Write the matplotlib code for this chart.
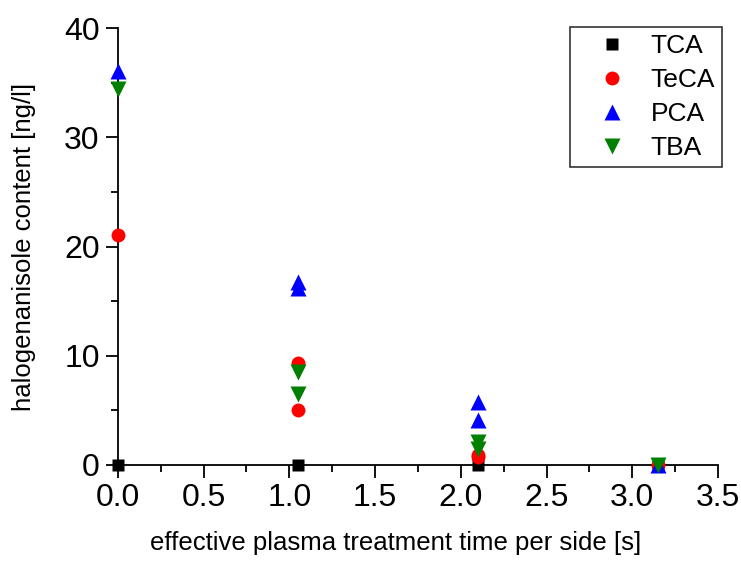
import numpy as np
import matplotlib
matplotlib.use('Agg')
import matplotlib.pyplot as plt
from matplotlib.ticker import MultipleLocator

plt.rcParams['font.family'] = ['Liberation Sans', 'DejaVu Sans']

# --- Data ---
tca_x  = [0.0, 1.05, 2.1, 3.15]
tca_y  = [0.0, 0.0, 0.0, 0.0]

teca_x = [0.0, 1.05, 1.05, 2.1, 2.1, 3.15]
teca_y = [21.1, 9.3, 5.0, 0.7, 0.9, 0.0]

pca_x  = [0.0, 1.05, 1.05, 2.1, 2.1, 3.15]
pca_y  = [36.1, 16.8, 16.2, 5.8, 4.1, 0.0]

tba_x  = [0.0, 1.05, 1.05, 2.1, 2.1, 3.15]
tba_y  = [34.4, 8.5, 6.5, 2.1, 1.5, 0.0]

fig = plt.figure(figsize=(7.41, 5.65), dpi=100)
ax = fig.add_axes([0.159, 0.177, 0.81, 0.773])

ax.plot(tca_x, tca_y, 's', color='black', ms=9, mec='none', label='TCA', clip_on=False, zorder=3)
ax.plot(teca_x, teca_y, 'o', color='red', ms=10, mec='none', label='TeCA', clip_on=False, zorder=3)
ax.plot(pca_x, pca_y, '^', color='blue', ms=12, mec='none', label='PCA', clip_on=False, zorder=3)
ax.plot(tba_x, tba_y, 'v', color='green', ms=12, mec='none', label='TBA', clip_on=False, zorder=3)

ax.set_xlim(0, 3.5)
ax.set_ylim(0, 40)
ax.xaxis.set_major_locator(MultipleLocator(0.5))
ax.xaxis.set_minor_locator(MultipleLocator(0.25))
ax.yaxis.set_major_locator(MultipleLocator(10))
ax.yaxis.set_minor_locator(MultipleLocator(5))
ax.xaxis.set_major_formatter(plt.FormatStrFormatter('%.1f'))

for s in ['top', 'right']:
    ax.spines[s].set_visible(False)
for s in ['left', 'bottom']:
    ax.spines[s].set_linewidth(1.3)

ax.tick_params(which='major', direction='out', length=9, width=1.3, labelsize=23, pad=4)
ax.tick_params(which='minor', direction='out', length=5, width=1.3)

ax.set_xlabel('effective plasma treatment time per side [s]', fontsize=18.5, labelpad=16)
ax.xaxis.set_label_coords(0.463, -0.15)
ax.set_ylabel('halogenanisole content [ng/l]', fontsize=18.5, labelpad=20)

leg = ax.legend(loc='upper right', bbox_to_anchor=(1.007, 1.002), fontsize=19, frameon=True,
                fancybox=False, edgecolor='black', borderpad=0.26, labelspacing=0.38,
                handlelength=2.66, handletextpad=0.15, borderaxespad=0.0)
leg.get_frame().set_linewidth(1.2)

fig.savefig('out.png', dpi=100)
